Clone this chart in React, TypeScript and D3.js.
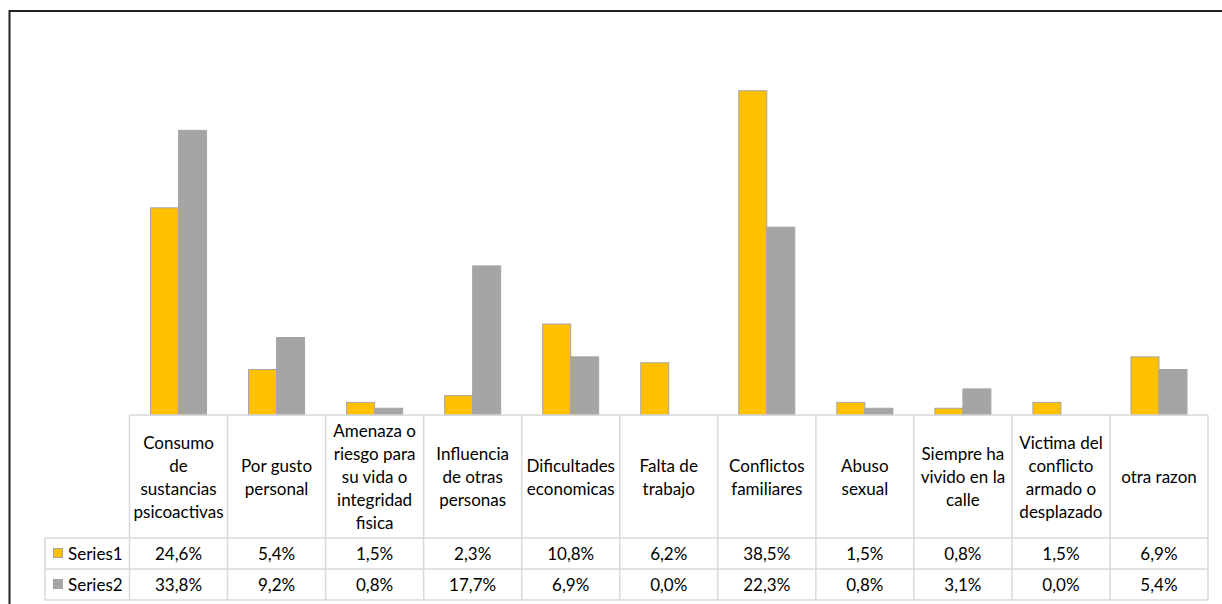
import * as d3 from 'd3';

const categoryLines: string[][] = [
  ['Consumo', 'de', 'sustancias', 'psicoactivas'],
  ['Por gusto', 'personal'],
  ['Amenaza o', 'riesgo para', 'su vida o', 'integridad', 'fisica'],
  ['Influencia', 'de otras', 'personas'],
  ['Dificultades', 'economicas'],
  ['Falta de', 'trabajo'],
  ['Conflictos', 'familiares'],
  ['Abuso', 'sexual'],
  ['Siempre ha', 'vivido en la', 'calle'],
  ['Victima del', 'conflicto', 'armado o', 'desplazado'],
  ['otra razon'],
];
const categories = categoryLines.map((l) => l.join(' '));

const seriesNames = ['Series1', 'Series2'];
const series1 = [24.6, 5.4, 1.5, 2.3, 10.8, 6.2, 38.5, 1.5, 0.8, 1.5, 6.9];
const series2 = [33.8, 9.2, 0.8, 17.7, 6.9, 0.0, 22.3, 0.8, 3.1, 0.0, 5.4];
const seriesValues = [series1, series2];
const seriesColors = ['#FFC000', '#A5A5A5'];

const W = 1222;
const H = 604;
const FONT = 'Lato, "Open Sans", sans-serif';

export default function App() {
  const tableLeft = 129.5;
  const tableRight = 1208;
  const labelLeft = 45;
  const baseY = 415;
  const headerBottom = 538;
  const row1Bottom = 569;
  const row2Bottom = 600;
  const plotTop = 36;

  const x = d3.scaleBand<string>().domain(categories).range([tableLeft, tableRight]);
  const xs = d3
    .scaleBand<string>()
    .domain(seriesNames)
    .range([0, x.bandwidth()])
    .paddingInner(0)
    .paddingOuter(0.75);
  const y = d3.scaleLinear().domain([0, 45]).range([baseY, plotTop]);

  const lineH = 23;
  const headerMid = (baseY + headerBottom) / 2;
  const rowMids = [(headerBottom + row1Bottom) / 2, (row1Bottom + row2Bottom) / 2];
  const grid = '#d9d9d9';
  const fmt = (v: number) => v.toFixed(1).replace('.', ',') + '%';

  return (
    <svg
      width={W}
      height={H}
      viewBox={`0 0 ${W} ${H}`}
      style={{ position: 'absolute', left: 0, top: 0, fontFamily: FONT }}
    >
      <rect x={0} y={0} width={W} height={H} fill="#fff" />
      {/* outer frame, cut by the page edge */}
      <path d={`M9.5,${H + 5} V11 H${W + 5}`} fill="none" stroke="#222" strokeWidth={2} />

      {/* bars */}
      {categories.map((c, i) => (
        <g key={c} transform={`translate(${x(c)},0)`}>
          {seriesNames.map((s, j) => {
            const v = seriesValues[j][i];
            if (v <= 0) return null;
            return (
              <rect
                key={s}
                x={xs(s)}
                y={y(v)}
                width={xs.bandwidth()}
                height={baseY - y(v)}
                fill={seriesColors[j]}
                stroke="#a5a5a5"
                strokeWidth={1}
              />
            );
          })}
        </g>
      ))}

      {/* data table grid */}
      <g stroke={grid} strokeWidth={1.5}>
        <line x1={tableLeft} x2={tableRight} y1={baseY} y2={baseY} />
        {[headerBottom, row1Bottom, row2Bottom].map((yy) => (
          <line key={yy} x1={labelLeft} x2={tableRight} y1={yy} y2={yy} />
        ))}
        <line x1={labelLeft} x2={labelLeft} y1={headerBottom} y2={row2Bottom} />
        {categories.map((c) => (
          <line key={c} x1={x(c)} x2={x(c)} y1={baseY} y2={row2Bottom} />
        ))}
        <line x1={tableRight} x2={tableRight} y1={baseY} y2={row2Bottom} />
      </g>

      {/* header labels */}
      {categoryLines.map((lines, i) => {
        const cx = (x(categories[i]) as number) + x.bandwidth() / 2;
        return (
          <text key={i} textAnchor="middle" fontSize={17} fill="#000">
            {lines.map((ln, k) => (
              <tspan
                key={k}
                x={cx}
                y={headerMid + (k - (lines.length - 1) / 2) * lineH}
                dominantBaseline="central"
              >
                {ln}
              </tspan>
            ))}
          </text>
        );
      })}

      {/* series rows */}
      {seriesNames.map((s, j) => (
        <g key={s}>
          <rect
            x={53.5}
            y={rowMids[j] - 5}
            width={9}
            height={9}
            fill={seriesColors[j]}
            stroke="#a5a5a5"
            strokeWidth={1}
          />
          <text x={68} y={rowMids[j]} dominantBaseline="central" fontSize={17} fill="#000">
            {s}
          </text>
          {categories.map((c, i) => (
            <text
              key={c}
              x={(x(c) as number) + x.bandwidth() / 2}
              y={rowMids[j]}
              textAnchor="middle"
              dominantBaseline="central"
              fontSize={17}
              fill="#000"
            >
              {fmt(seriesValues[j][i])}
            </text>
          ))}
        </g>
      ))}
    </svg>
  );
}
